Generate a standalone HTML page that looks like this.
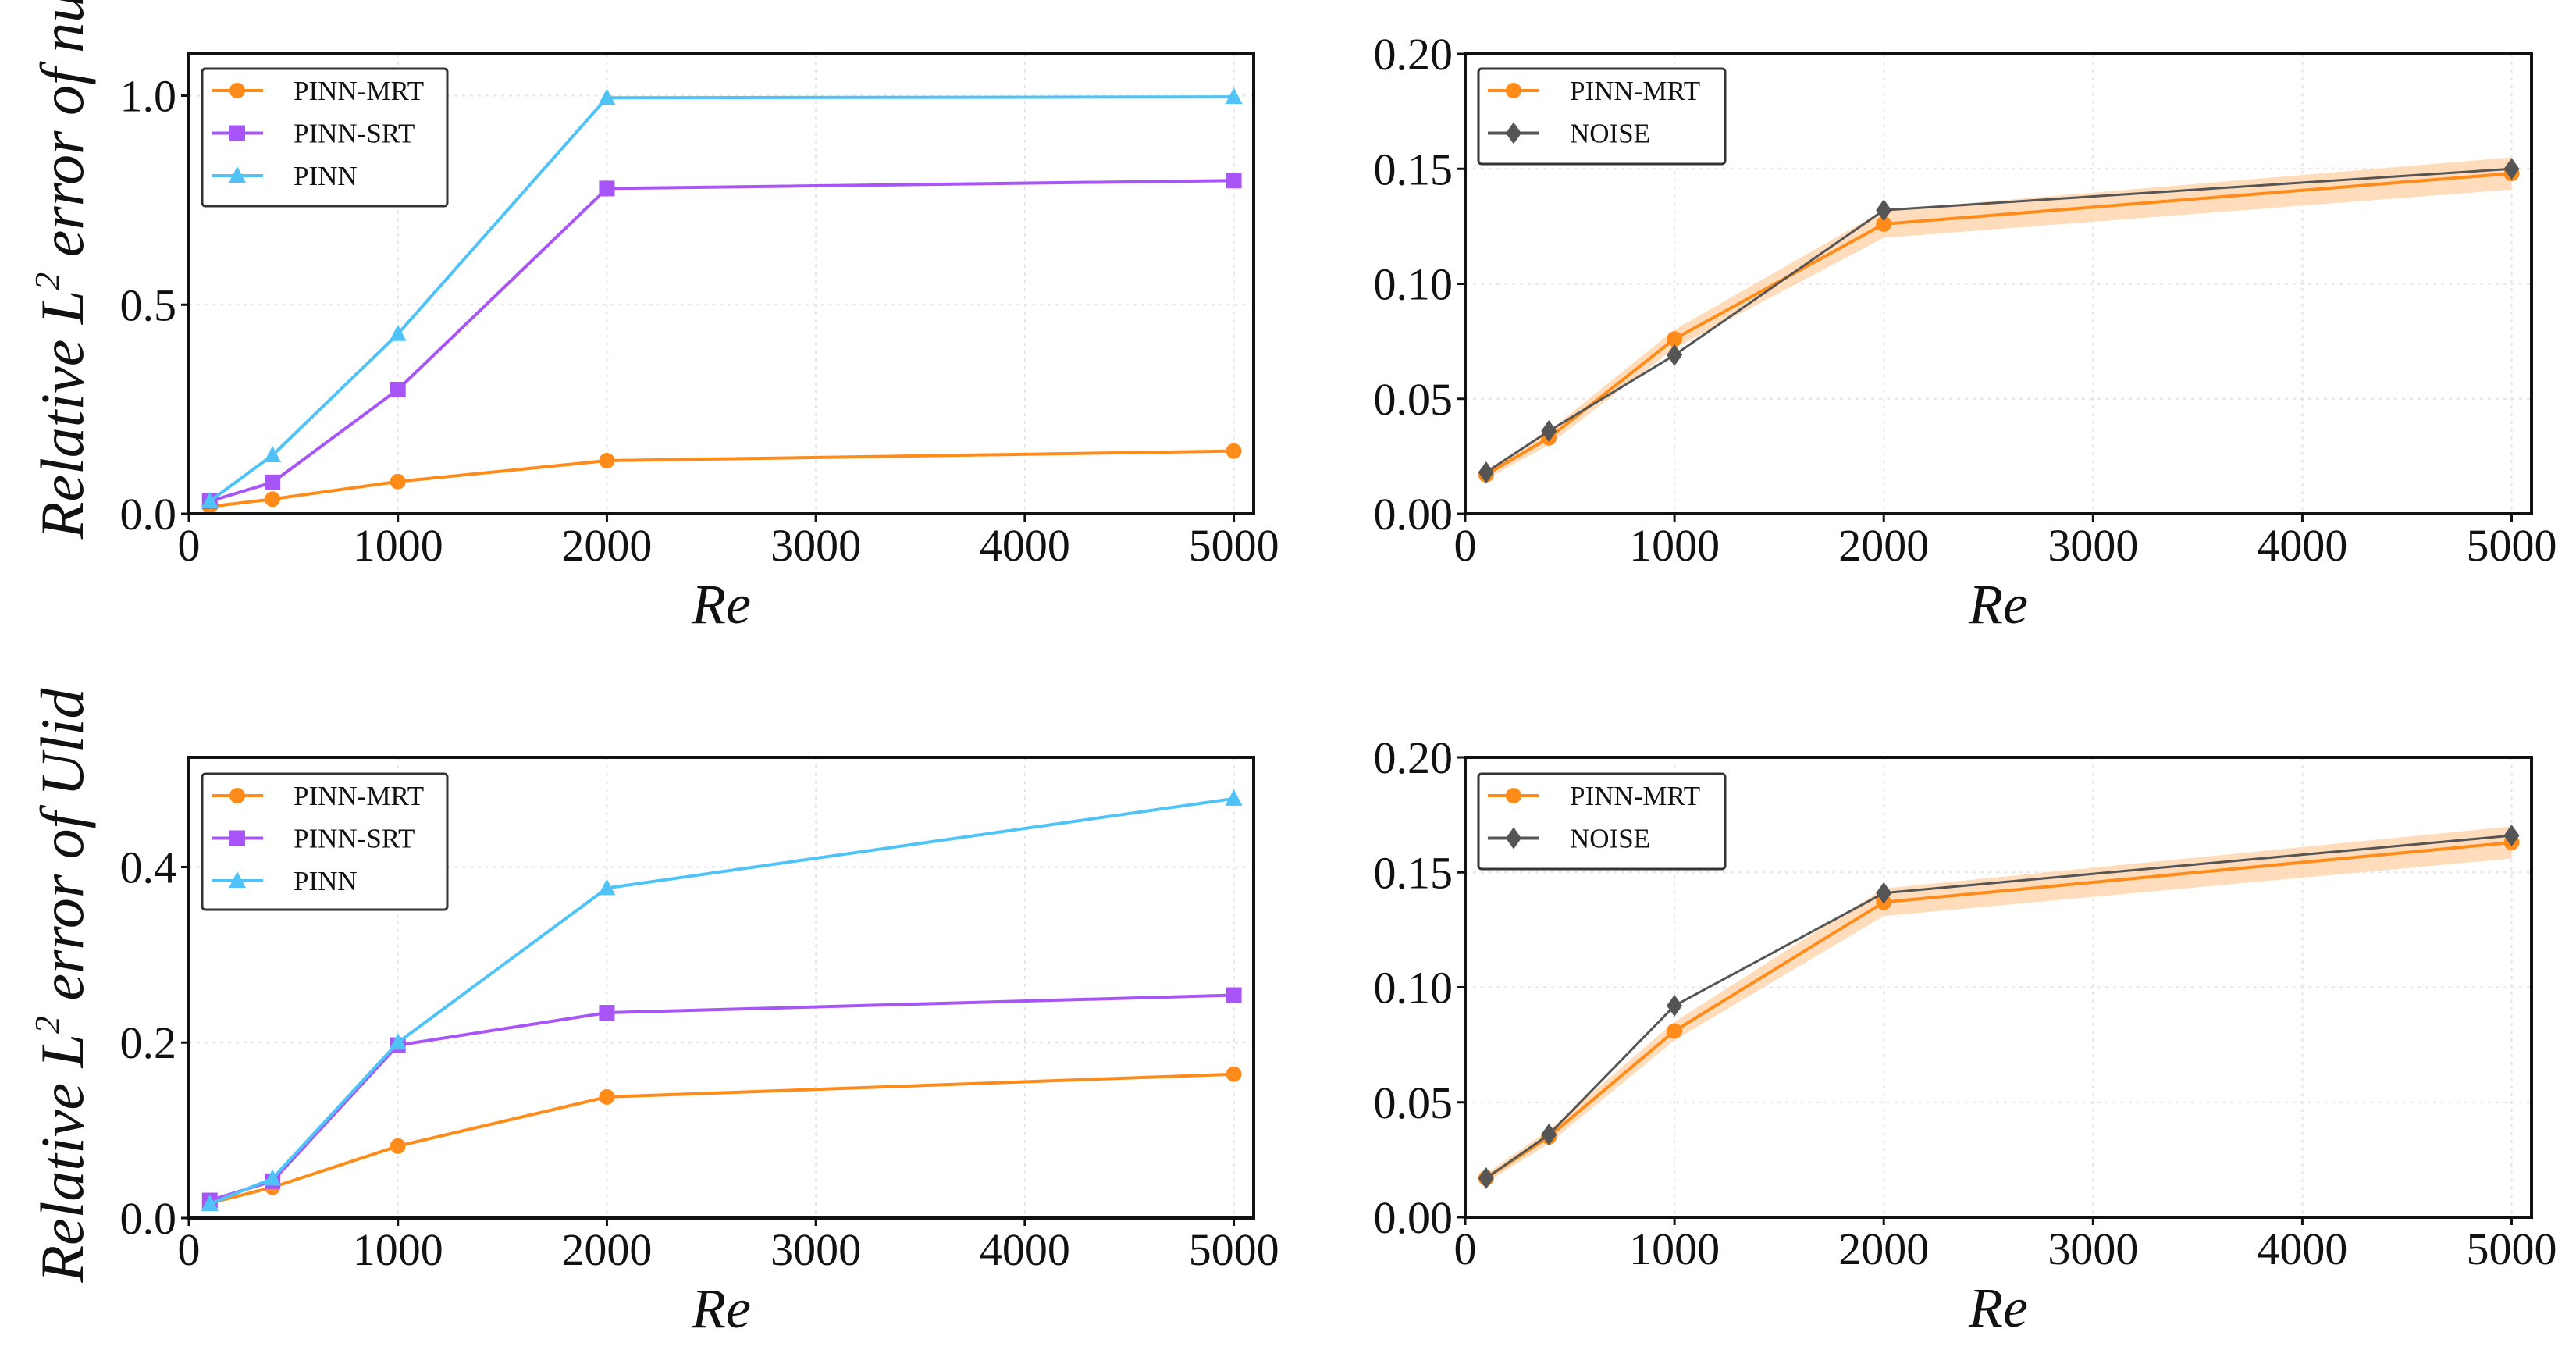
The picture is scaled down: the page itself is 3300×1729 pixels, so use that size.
<!DOCTYPE html>
<html><head><meta charset="utf-8"><style>
body{margin:0;background:#fff;}
svg{display:block;}
text{font-family:"Liberation Serif",serif;}
</style></head><body>
<svg id="fig" width="3300" height="1729" viewBox="0 0 3300 1729" xmlns="http://www.w3.org/2000/svg"></svg>
<script>
const reValues = [100, 400, 1000, 2000, 5000];
const xTicks = [0, 1000, 2000, 3000, 4000, 5000];
// top-left (nu)
const tlMRT = [0.017, 0.035, 0.077, 0.127, 0.150];
const tlSRT = [0.030, 0.075, 0.297, 0.778, 0.797];
const tlPINN = [0.030, 0.140, 0.430, 0.995, 0.997];
const tlYTicks = [0.0, 0.5, 1.0];
// top-right (nu, noise)
const trMRT = [0.017, 0.033, 0.076, 0.126, 0.148];
const trNOISE = [0.018, 0.036, 0.069, 0.132, 0.150];
const trBand = [0.002, 0.003, 0.004, 0.006, 0.007];
const rYTicks = [0.00, 0.05, 0.10, 0.15, 0.20];
// bottom-left (Ulid)
const blMRT = [0.017, 0.035, 0.082, 0.138, 0.164];
const blSRT = [0.020, 0.042, 0.197, 0.234, 0.254];
const blPINN = [0.016, 0.045, 0.200, 0.376, 0.478];
const blYTicks = [0.0, 0.2, 0.4];
// bottom-right (Ulid, noise)
const brMRT = [0.017, 0.035, 0.081, 0.137, 0.163];
const brNOISE = [0.017, 0.036, 0.092, 0.141, 0.166];
const brBand = [0.002, 0.003, 0.004, 0.006, 0.007];

const NS = "http://www.w3.org/2000/svg";
const svg = document.getElementById('fig');
const ORANGE = "#ff8c1a", PURPLE = "#a855f7", CYAN = "#4fc3f7", GRAY = "#555555";
function mk(tag, attrs, parent) {
  const e = document.createElementNS(NS, tag);
  for (const k in attrs) e.setAttribute(k, attrs[k]);
  (parent || svg).appendChild(e);
  return e;
}
function marker(g, kind, cx, cy, color) {
  let m;
  if (kind === 'o') m = mk('circle', {cx: cx, cy: cy, r: 10, fill: color}, g);
  else if (kind === 's') m = mk('rect', {x: cx - 10, y: cy - 10, width: 20, height: 20, fill: color}, g);
  else if (kind === '^') m = mk('polygon', {points: `${cx},${cy - 12} ${cx - 11},${cy + 9} ${cx + 11},${cy + 9}`, fill: color}, g);
  else m = mk('polygon', {points: `${cx},${cy - 14} ${cx - 10},${cy} ${cx},${cy + 14} ${cx + 10},${cy}`, fill: color}, g);
  return m;
}
function panel(name, box, ymax, yTicks, yFmt, series, band, legendBox) {
  const [L, T, R, B] = box;
  const xmax = 5095;
  const X = v => L + (v / xmax) * (R - L);
  const Y = v => B - (v / ymax) * (B - T);
  const g = mk('g', {});
  
  
  xTicks.forEach(t => { if (t > 0) { const l = mk('line', {x1: X(t), x2: X(t), y1: T, y2: B, stroke: '#e4e4e4', 'stroke-width': 2, 'stroke-dasharray': '4 6'}, g);   } });
  yTicks.forEach(t => { if (t > 0) { const l = mk('line', {x1: L, x2: R, y1: Y(t), y2: Y(t), stroke: '#e4e4e4', 'stroke-width': 2, 'stroke-dasharray': '4 6'}, g);   } });
  if (band) {
    const s = series[0];
    let pts = reValues.map((x, i) => `${X(x)},${Y(s.v[i] + band[i])}`);
    pts = pts.concat(reValues.map((x, i) => `${X(x)},${Y(s.v[i] - band[i])}`).reverse());
    const p = mk('polygon', {points: pts.join(' '), fill: '#ffd2a6', opacity: 0.75}, g);
    
    
  }
  series.forEach(s => {
    const sg = mk('g', {}, g);
    
    
    const pl = mk('polyline', {points: reValues.map((x, i) => `${X(x)},${Y(s.v[i])}`).join(' '), fill: 'none', stroke: s.c, 'stroke-width': s.w || 4}, sg);
    
    
    reValues.forEach((x, i) => {
      const m = marker(sg, s.m, X(x), Y(s.v[i]), s.c);
      
      
    });
  });
  const fr = mk('rect', {x: L, y: T, width: R - L, height: B - T, fill: 'none', stroke: '#111', 'stroke-width': 4}, g);
  
  
  xTicks.forEach(t => {
    mk('line', {x1: X(t), x2: X(t), y1: B, y2: B + 10, stroke: '#111', 'stroke-width': 3}, g);
    const tx = mk('text', {x: X(t), y: B + 60, 'font-size': 58, 'text-anchor': 'middle', fill: '#111'}, g);
    tx.textContent = t;
    
    
  });
  yTicks.forEach(t => {
    mk('line', {x1: L - 10, x2: L, y1: Y(t), y2: Y(t), stroke: '#111', 'stroke-width': 3}, g);
    const tx = mk('text', {x: L - 16, y: Y(t) + 20, 'font-size': 58, 'text-anchor': 'end', fill: '#111'}, g);
    tx.textContent = t.toFixed(yFmt);
    
    
  });
  const xl = mk('text', {x: (L + R) / 2, y: B + 140, 'font-size': 72, 'font-style': 'italic', 'text-anchor': 'middle', fill: '#111'}, g);
  xl.textContent = 'Re';
  
  
  const [lx, ly, lw, lh] = legendBox;
  const lg = mk('g', {}, g);
  
  
  mk('rect', {x: lx, y: ly, width: lw, height: lh, fill: '#fff', stroke: '#333', 'stroke-width': 3, rx: 4}, lg);
  series.forEach((s, i) => {
    const cy = ly + 28 + i * 54.5;
    const e = mk('g', {}, lg);
    
    
    mk('line', {x1: lx + 12, x2: lx + 78, y1: cy, y2: cy, stroke: s.c, 'stroke-width': 4}, e);
    marker(e, s.m, lx + 45, cy, s.c);
    const t = mk('text', {x: lx + 117, y: cy + 12, 'font-size': 35, fill: '#111'}, e);
    t.textContent = s.label;
  });
}
const sMRT = (v) => ({id: 'pinn-mrt', label: 'PINN-MRT', v: v, c: ORANGE, m: 'o'});
panel('panel-nu', [242, 69, 1606, 658], 1.1, tlYTicks, 1,
  [sMRT(tlMRT), {id: 'pinn-srt', label: 'PINN-SRT', v: tlSRT, c: PURPLE, m: 's'}, {id: 'pinn', label: 'PINN', v: tlPINN, c: CYAN, m: '^'}],
  null, [259, 88, 314, 176]);
panel('panel-nu-noise', [1877, 69, 3243, 658], 0.2, rYTicks, 2,
  [sMRT(trMRT), {id: 'noise', label: 'NOISE', v: trNOISE, c: GRAY, m: 'd', w: 3}],
  trBand, [1894, 88, 316, 122]);
panel('panel-ulid', [242, 970, 1606, 1560], 0.525, blYTicks, 1,
  [sMRT(blMRT), {id: 'pinn-srt', label: 'PINN-SRT', v: blSRT, c: PURPLE, m: 's'}, {id: 'pinn', label: 'PINN', v: blPINN, c: CYAN, m: '^'}],
  null, [259, 991, 314, 174]);
panel('panel-ulid-noise', [1877, 970, 3243, 1559], 0.2, rYTicks, 2,
  [sMRT(brMRT), {id: 'noise', label: 'NOISE', v: brNOISE, c: GRAY, m: 'd', w: 3}],
  brBand, [1894, 991, 316, 122]);
function ylab(txt, cy, name) {
  const t = mk('text', {x: 0, y: 0, transform: `translate(106 ${cy}) rotate(-90)`, 'font-size': 78, 'font-style': 'italic', 'text-anchor': 'middle', fill: '#111'});
  t.innerHTML = txt;
  
  
}
ylab('Relative L<tspan font-size="46" dy="-30">2</tspan><tspan dy="30"> error of nu</tspan>', 340, 'y-axis-title-nu');
ylab('Relative L<tspan font-size="46" dy="-30">2</tspan><tspan dy="30"> error of Ulid</tspan>', 1262, 'y-axis-title-ulid');
</script>
</body></html>
